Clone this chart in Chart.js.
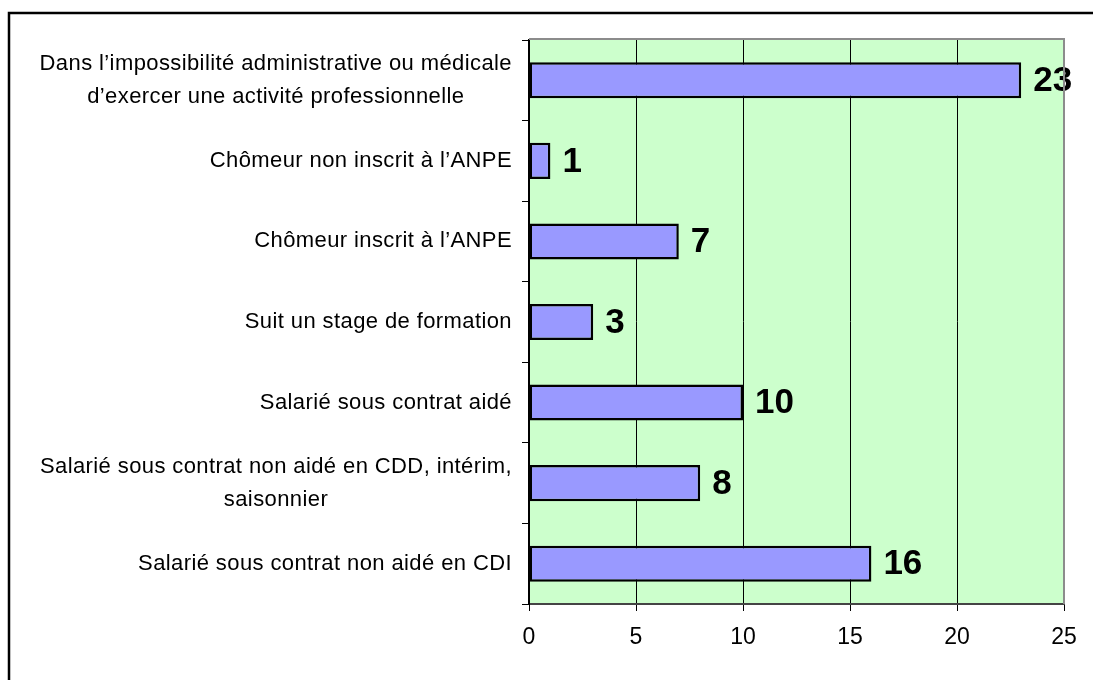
<!DOCTYPE html>
<html>
<head>
<meta charset="utf-8">
<script src="https://cdn.jsdelivr.net/npm/chart.js@4.4.1/dist/chart.umd.min.js"></script>
<style>
  html, body { margin: 0; padding: 0; background: #fff; }
  #wrap { width: 1093px; height: 680px; }
</style>
</head>
<body>
<div id="wrap"><canvas id="chart" width="1093" height="680"></canvas></div>
<script>
// DATA
const categories = [
    ["Dans l\u2019impossibilité administrative ou médicale", "d\u2019exercer une activité professionnelle"],
    "Chômeur non inscrit à l\u2019ANPE",
    "Chômeur inscrit à l\u2019ANPE",
    "Suit un stage de formation",
    "Salarié sous contrat aidé",
    ["Salarié sous contrat non aidé en CDD, intérim,", "saisonnier"],
    "Salarié sous contrat non aidé en CDI"
];
const values = [23, 1, 7, 3, 10, 8, 16];
const xTicks = [0, 5, 10, 15, 20, 25];

const FONT = '"Liberation Sans", Arial, sans-serif';

// frame, plot background and the grey top/right edges of the plot
const framePlugin = {
    id: 'frame',
    beforeDraw(chart) {
        const { ctx, chartArea: a } = chart;
        ctx.save();
        ctx.fillStyle = '#ffffff';
        ctx.fillRect(0, 0, chart.width, chart.height);
        ctx.strokeStyle = '#000';
        ctx.lineWidth = 2.5;
        ctx.strokeRect(9, 13, chart.width + 20, chart.height + 20);
        ctx.fillStyle = '#ccffcc';
        ctx.fillRect(a.left, a.top, a.right - a.left, a.bottom - a.top);
        ctx.restore();
    },
    afterDraw(chart) {
        const { ctx, chartArea: a } = chart;
        ctx.save();
        ctx.strokeStyle = '#8c8c8c';
        ctx.lineWidth = 2;
        ctx.beginPath();
        ctx.moveTo(a.left, a.top - 1);
        ctx.lineTo(a.right, a.top - 1);
        ctx.lineTo(a.right, a.bottom);
        ctx.stroke();
        ctx.restore();
    }
};

// category labels: lines centred on each other, block right-aligned to the axis
const catLabelPlugin = {
    id: 'catLabels',
    afterDraw(chart) {
        const { ctx } = chart;
        const y = chart.scales.y;
        ctx.save();
        ctx.font = '22px ' + FONT;
        if ('letterSpacing' in ctx) ctx.letterSpacing = '0.4px';
        ctx.fillStyle = '#000';
        ctx.textAlign = 'center';
        ctx.textBaseline = 'middle';
        const right = 512, lh = 33;
        categories.forEach((c, i) => {
            const lines = Array.isArray(c) ? c : [c];
            const w = Math.max(...lines.map(l => ctx.measureText(l).width));
            const cx = right - w / 2;
            const yc = y.getPixelForValue(i);
            lines.forEach((l, j) => ctx.fillText(l, cx, yc + (j - (lines.length - 1) / 2) * lh));
        });
        ctx.restore();
    }
};

// bold value at the end of each bar
const valueLabelPlugin = {
    id: 'valueLabels',
    afterDatasetsDraw(chart) {
        const { ctx } = chart;
        const meta = chart.getDatasetMeta(0);
        ctx.save();
        ctx.font = 'bold 35px ' + FONT;
        ctx.fillStyle = '#000';
        ctx.textAlign = 'left';
        ctx.textBaseline = 'middle';
        meta.data.forEach((bar, i) => ctx.fillText(String(values[i]), bar.x + 12, bar.y + 1));
        ctx.restore();
    }
};

new Chart(document.getElementById('chart'), {
    type: 'bar',
    data: {
        labels: categories,
        datasets: [{
            data: values,
            backgroundColor: '#9999ff',
            borderColor: '#000',
            borderWidth: 2.5,
            borderSkipped: false,
            categoryPercentage: 1,
            barPercentage: 0.448
        }]
    },
    options: {
        indexAxis: 'y',
        responsive: false,
        animation: false,
        layout: { padding: { top: 40, right: 29, left: 0, bottom: 0 } },
        plugins: { legend: { display: false }, tooltip: { enabled: false } },
        scales: {
            x: {
                min: xTicks[0],
                max: xTicks[xTicks.length - 1],
                afterBuildTicks: s => { s.ticks = xTicks.map(v => ({ value: v })); },
                afterFit: s => { s.height = 680 - 604; },
                grid: {
                    color: c => (c.tick && c.tick.value === 25) ? '#8c8c8c' : '#000',
                    lineWidth: 1,
                    tickLength: 7,
                    tickColor: '#000'
                },
                border: { color: '#444', width: 2 },
                ticks: { font: { family: FONT, size: 23 }, color: '#000', padding: 13, maxRotation: 0 }
            },
            y: {
                afterFit: s => { s.width = 529; },
                grid: {
                    drawOnChartArea: false,
                    drawTicks: true,
                    tickLength: 7,
                    tickColor: '#000',
                    offset: true
                },
                border: { color: '#000', width: 2 },
                ticks: { display: false }
            }
        }
    },
    plugins: [framePlugin, catLabelPlugin, valueLabelPlugin]
});
</script>
</body>
</html>
